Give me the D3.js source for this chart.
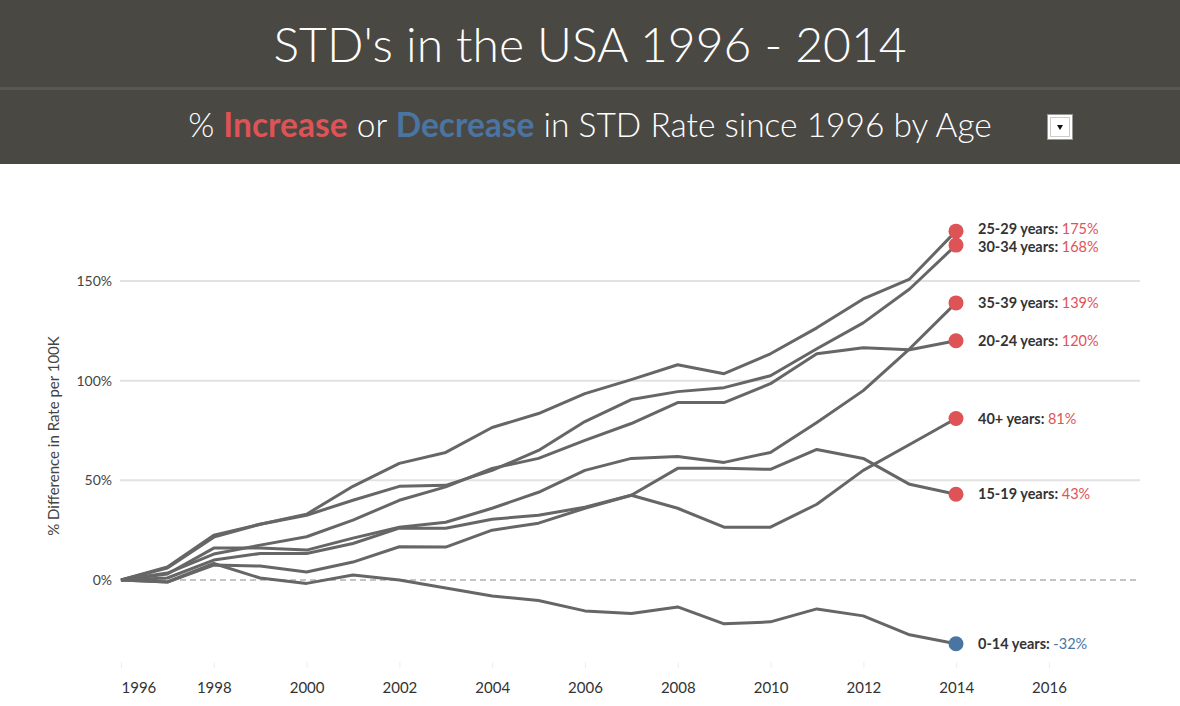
<!DOCTYPE html>
<html>
<head>
<meta charset="utf-8">
<script src="https://cdn.jsdelivr.net/npm/d3@7"></script>
<style>
  body { margin: 0; background: #fff; font-family: Lato, "Open Sans", sans-serif; }
  svg { display: block; }
</style>
</head>
<body>
<svg id="chart" width="1180" height="706"></svg>
<script>
"use strict";

var years = [1996, 1997, 1998, 1999, 2000, 2001, 2002, 2003, 2004, 2005,
             2006, 2007, 2008, 2009, 2010, 2011, 2012, 2013, 2014];

var ageGroups = ["25-29 years", "30-34 years", "35-39 years", "20-24 years",
                 "40+ years", "15-19 years", "0-14 years"];

// % change vs 1996
var age25to29 = [0, 6.5, 22.5, 28, 33, 47, 58.5, 64, 76.5, 83.5, 93.5, 100.5, 108, 103.5, 113.5, 126.5, 141, 151, 175];
var age30to34 = [0, 6, 21.5, 28, 32.5, 40, 47, 47.5, 55, 65, 79.5, 90.5, 94.5, 96.5, 102.5, 116, 129, 146, 168];
var age35to39 = [0, 3, 16, 16, 15, 21, 26.5, 29, 36, 44, 55, 61, 62, 59, 64, 79, 95, 116, 139];
var age20to24 = [0, 3.5, 13, 17.5, 21.7, 30, 40, 46.7, 56, 61, 70, 78.5, 89, 89, 98.5, 113.5, 116.5, 115.5, 120];
var age40plus = [0, -1, 7.5, 7, 4, 9, 16.7, 16.5, 25, 28.5, 36, 42.5, 36, 26.5, 26.5, 38, 55, 68, 81];
var age15to19 = [0, 1, 10, 13.3, 13.3, 18.3, 26, 26, 30.5, 32.5, 36.5, 42.5, 56, 56, 55.5, 65.5, 61, 48, 43];
var age0to14 = [0, -1, 8.3, 1, -1.7, 2.5, 0, -4, -8, -10.3, -15.5, -16.8, -13.5, -22, -21, -14.5, -18, -27.5, -32];

var finalLabels = ["175%", "168%", "139%", "120%", "81%", "43%", "-32%"];

var yTicks = [0, 50, 100, 150];
var xTicks = [1996, 1998, 2000, 2002, 2004, 2006, 2008, 2010, 2012, 2014, 2016];

var seriesValues = [age25to29, age30to34, age35to39, age20to24, age40plus, age15to19, age0to14];

var red = "#dd5356",
    blue = "#4a75a2";

var svg = d3.select("#chart");

// ---- header ----
svg.append("rect")
  .attr("x", 0).attr("y", 0)
  .attr("width", 1180).attr("height", 164)
  .attr("fill", "#4a4843");

svg.append("rect")
  .attr("x", 0).attr("y", 87)
  .attr("width", 1180).attr("height", 3)
  .attr("fill", "#5a5853");

svg.append("text")
  .attr("x", 590).attr("y", 62)
  .attr("text-anchor", "middle")
  .attr("fill", "#fff")
  .style("font-size", "48px")
  .style("font-weight", 300)
  .text("STD's in the USA 1996 - 2014");

var sub = svg.append("text")
  .attr("x", 590).attr("y", 137)
  .attr("text-anchor", "middle")
  .attr("fill", "#fff")
  .style("font-size", "33.5px")
  .style("font-weight", 300);
sub.append("tspan").text("% ");
sub.append("tspan").attr("fill", red).style("font-weight", 700).text("Increase");
sub.append("tspan").text(" or ");
sub.append("tspan").attr("fill", blue).style("font-weight", 700).text("Decrease");
sub.append("tspan").text(" in STD Rate since 1996 by Age");

// little dropdown box
svg.append("rect")
  .attr("x", 1047.5).attr("y", 114.5)
  .attr("width", 25).attr("height", 25)
  .attr("fill", "#fff")
  .attr("stroke", "#999");
svg.append("rect")
  .attr("x", 1050.5).attr("y", 117.5)
  .attr("width", 19).attr("height", 19)
  .attr("fill", "none")
  .attr("stroke", "#ccc");
svg.append("path")
  .attr("d", "M1057,125 L1063,125 L1060,130 Z")
  .attr("fill", "#111");

// ---- chart ----
var x = d3.scaleLinear().domain([1996, 2014]).range([121, 956]);
var y = d3.scaleLinear().domain([0, 150]).range([580, 281]);

var plot = svg.append("g");

plot.selectAll(".grid").data(yTicks.filter(function(d) { return d !== 0; }))
  .enter()
  .append("line")
  .attr("class", "grid")
  .attr("x1", 120).attr("x2", 1140)
  .attr("y1", function(d) { return y(d); })
  .attr("y2", function(d) { return y(d); })
  .attr("stroke", "#e2e2e2")
  .attr("stroke-width", 2);

plot.append("line")
  .attr("x1", 120).attr("x2", 1140)
  .attr("y1", y(0)).attr("y2", y(0))
  .attr("stroke", "#c4c4c4")
  .attr("stroke-width", 2)
  .attr("stroke-dasharray", "6,4");

// y axis labels
plot.selectAll(".ylab").data(yTicks)
  .enter()
  .append("text")
  .attr("class", "ylab")
  .attr("x", 112)
  .attr("y", function(d) { return y(d) + 5; })
  .attr("text-anchor", "end")
  .attr("fill", "#444")
  .style("font-size", "14px")
  .text(function(d) { return d + "%"; });

plot.append("text")
  .attr("transform", "translate(59,436) rotate(-90)")
  .attr("text-anchor", "middle")
  .attr("fill", "#444")
  .style("font-size", "15px")
  .text("% Difference in Rate per 100K");

// x axis
var xAxis = d3.axisBottom(x.copy().domain([1996, 2016]).range([121, 1049]))
  .tickValues(xTicks)
  .tickFormat(d3.format("d"))
  .tickSize(6);

var xg = plot.append("g")
  .attr("transform", "translate(0,662)")
  .call(xAxis);
xg.select(".domain").remove();
xg.selectAll(".tick line").attr("stroke", "#eee");
xg.selectAll(".tick text")
  .attr("y", 20)
  .attr("fill", "#333")
  .style("font-size", "15px")
  .style("font-family", "Lato, sans-serif")
  .attr("text-anchor", function(d) { return d === 1996 ? "start" : "middle"; });

// lines
var line = d3.line()
  .x(function(d, i) { return x(years[i]); })
  .y(function(d) { return y(d); });

plot.selectAll(".ageline").data(seriesValues)
  .enter()
  .append("path")
  .attr("class", "ageline")
  .attr("d", line)
  .attr("fill", "none")
  .attr("stroke", "#666")
  .attr("stroke-width", 3)
  .attr("stroke-linejoin", "round");

var lastIdx = years.length - 1;

plot.selectAll(".enddot").data(seriesValues)
  .enter()
  .append("circle")
  .attr("class", "enddot")
  .attr("cx", x(years[lastIdx]))
  .attr("cy", function(d) { return y(d[lastIdx]); })
  .attr("r", 7.5)
  .attr("fill", function(d) { return d[lastIdx] < 0 ? blue : red; });

// push end labels apart a little where they would collide
var minGap = 18;
var labelY = seriesValues.map(function(d) { return y(d[lastIdx]); });
for (var pass = 0; pass < 10; pass++) {
  for (var i = 1; i < labelY.length; i++) {
    var gap = labelY[i] - labelY[i - 1];
    if (gap < minGap) {
      var shift = (minGap - gap) / 2;
      labelY[i - 1] -= shift;
      labelY[i] += shift;
    }
  }
}

var labels = plot.selectAll(".endlabel").data(seriesValues)
  .enter()
  .append("text")
  .attr("class", "endlabel")
  .attr("x", 978)
  .attr("y", function(d, i) { return labelY[i] + 5; })
  .style("font-size", "14.5px");

labels.append("tspan")
  .attr("fill", "#333")
  .style("font-weight", 700)
  .text(function(d, i) { return ageGroups[i] + ": "; });

labels.append("tspan")
  .attr("fill", function(d) { return d[lastIdx] < 0 ? blue : red; })
  .text(function(d, i) { return finalLabels[i]; });
</script>
</body>
</html>
